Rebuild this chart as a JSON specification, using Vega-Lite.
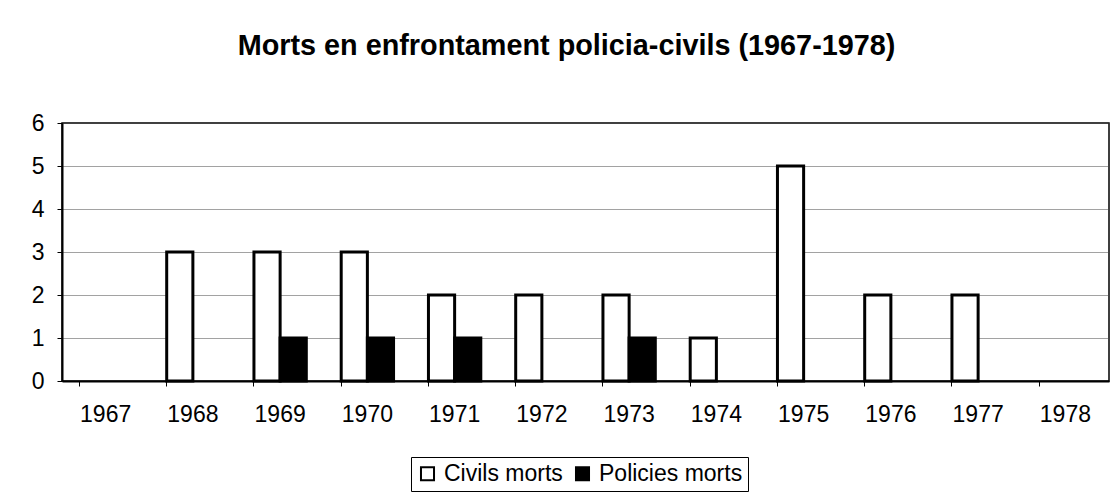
{
  "$schema": "https://vega.github.io/schema/vega-lite/v6.json",
  "width": 1047,
  "height": 258,
  "autosize": "none",
  "padding": {"left": 62, "top": 123, "right": 6, "bottom": 120},
  "background": "white",
  "title": {
    "text": "Morts en enfrontament policia-civils (1967-1978)",
    "font": "Liberation Sans",
    "fontSize": 28.8,
    "fontWeight": "bold",
    "color": "black",
    "anchor": "middle",
    "dx": -19,
    "offset": 51
  },
  "data": {
    "values": [
      {"any": "1967", "serie": "Civils morts", "morts": 0},
      {"any": "1968", "serie": "Civils morts", "morts": 3},
      {"any": "1969", "serie": "Civils morts", "morts": 3},
      {"any": "1970", "serie": "Civils morts", "morts": 3},
      {"any": "1971", "serie": "Civils morts", "morts": 2},
      {"any": "1972", "serie": "Civils morts", "morts": 2},
      {"any": "1973", "serie": "Civils morts", "morts": 2},
      {"any": "1974", "serie": "Civils morts", "morts": 1},
      {"any": "1975", "serie": "Civils morts", "morts": 5},
      {"any": "1976", "serie": "Civils morts", "morts": 2},
      {"any": "1977", "serie": "Civils morts", "morts": 2},
      {"any": "1978", "serie": "Civils morts", "morts": 0},
      {"any": "1967", "serie": "Policies morts", "morts": 0},
      {"any": "1968", "serie": "Policies morts", "morts": 0},
      {"any": "1969", "serie": "Policies morts", "morts": 1},
      {"any": "1970", "serie": "Policies morts", "morts": 1},
      {"any": "1971", "serie": "Policies morts", "morts": 1},
      {"any": "1972", "serie": "Policies morts", "morts": 0},
      {"any": "1973", "serie": "Policies morts", "morts": 1},
      {"any": "1974", "serie": "Policies morts", "morts": 0},
      {"any": "1975", "serie": "Policies morts", "morts": 0},
      {"any": "1976", "serie": "Policies morts", "morts": 0},
      {"any": "1977", "serie": "Policies morts", "morts": 0},
      {"any": "1978", "serie": "Policies morts", "morts": 0}
    ]
  },
  "transform": [{"filter": "datum.morts > 0"}],
  "mark": {"type": "bar", "stroke": "black", "strokeWidth": 3, "strokeJoin": "miter"},
  "encoding": {
    "x": {
      "field": "any",
      "type": "nominal",
      "sort": null,
      "scale": {
        "domain": ["1967","1968","1969","1970","1971","1972","1973","1974","1975","1976","1977","1978"],
        "paddingInner": 0.4,
        "paddingOuter": 0.2
      },
      "axis": {
        "title": null,
        "labelAngle": 0,
        "labelFont": "Liberation Sans",
        "labelFontSize": 23,
        "labelColor": "black",
        "labelPadding": 17,
        "bandPosition": 0,
        "tickSize": 5,
        "tickColor": "black",
        "domainColor": "black",
        "domainWidth": 2,
        "grid": false
      }
    },
    "xOffset": {"field": "serie", "type": "nominal", "sort": ["Civils morts", "Policies morts"], "scale": {"paddingInner": 0, "paddingOuter": 0}},
    "y": {
      "field": "morts",
      "type": "quantitative",
      "scale": {"domain": [0, 6], "nice": false},
      "axis": {
        "title": null,
        "values": [0,1,2,3,4,5,6],
        "labelFont": "Liberation Sans",
        "labelFontSize": 23,
        "labelColor": "black",
        "labelPadding": 13,
        "tickSize": 5,
        "tickColor": "black",
        "domainColor": "black",
        "domainWidth": 2,
        "grid": true,
        "gridColor": "#444444",
        "gridWidth": 1,
        "gridDash": [1, 1]
      }
    },
    "fill": {
      "field": "serie",
      "type": "nominal",
      "sort": ["Civils morts", "Policies morts"],
      "scale": {"range": ["white", "black"]},
      "legend": {
        "title": null,
        "orient": "none",
        "direction": "horizontal",
        "legendX": 349,
        "legendY": 334,
        "strokeColor": "black",
        "padding": 5,
        "symbolType": "square",
        "symbolSize": 170,
        "symbolStrokeColor": "black",
        "symbolStrokeWidth": 2,
        "symbolOpacity": 1,
        "labelFont": "Liberation Sans",
        "labelFontSize": 23,
        "labelColor": "black",
        "labelOffset": 5,
        "columnPadding": 8
      }
    }
  },
  "config": {
    "view": {"stroke": "black", "strokeWidth": 1.5},
    "axis": {"zindex": 0}
  }
}
